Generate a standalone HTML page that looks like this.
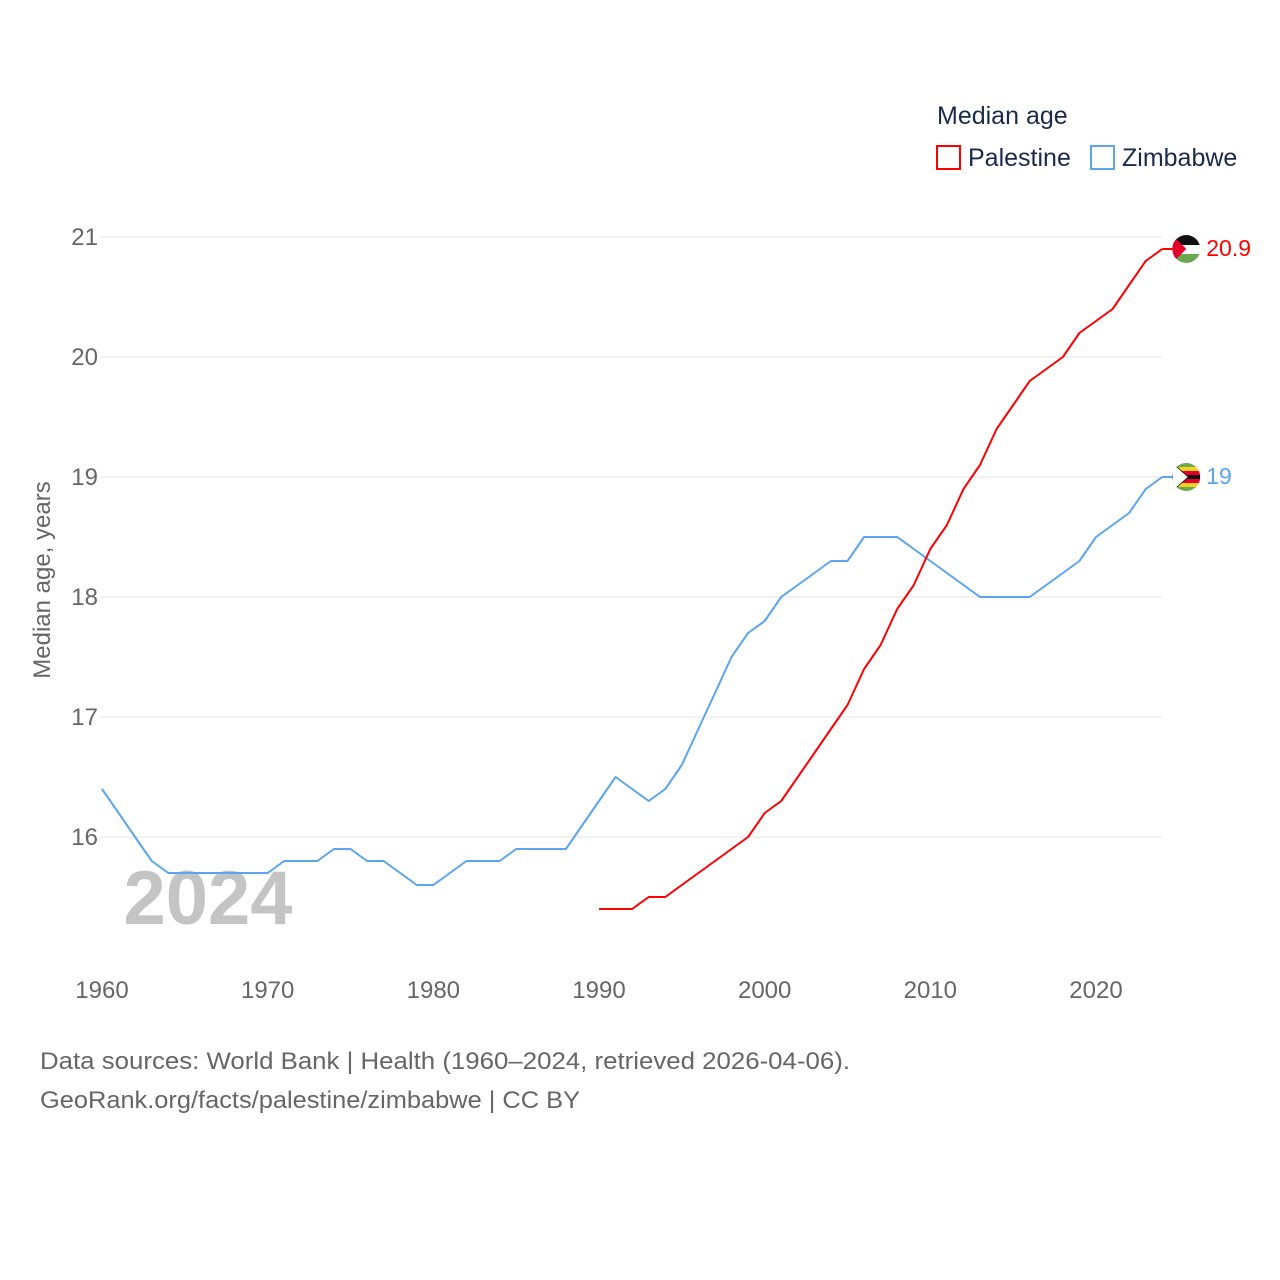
<!DOCTYPE html>
<html><head><meta charset="utf-8">
<style>
body{margin:0;background:#fff;}
svg{display:block;font-family:"Liberation Sans",sans-serif;}
</style></head>
<body>
<svg id="chart" width="1280" height="1280">
  <g id="grid"></g>
  <text x="208" y="924" font-size="76" font-weight="bold" fill="#c4c4c4" text-anchor="middle">2024</text>
  <g id="marks"></g>
  <text transform="translate(50,580) rotate(-90)" font-size="24" fill="#666" text-anchor="middle">Median age, years</text>
  <g>
    <text x="937" y="124" font-size="25" fill="#1a2a4a">Median age</text>
    <rect x="937" y="146" width="23" height="23" fill="none" stroke="#ff0000" stroke-width="2"/>
    <text x="968" y="166" font-size="25" fill="#1a2a4a">Palestine</text>
    <rect x="1091" y="146" width="23" height="23" fill="none" stroke="#5aa5ee" stroke-width="2"/>
    <text x="1122" y="166" font-size="25" fill="#1a2a4a">Zimbabwe</text>
  </g>
  <text x="40" y="1069" font-size="24" fill="#666" textLength="810" lengthAdjust="spacingAndGlyphs">Data sources: World Bank | Health (1960–2024, retrieved 2026-04-06).</text>
  <text x="40" y="1108" font-size="24" fill="#666" textLength="540" lengthAdjust="spacingAndGlyphs">GeoRank.org/facts/palestine/zimbabwe | CC BY</text>
</svg>
<script>
const yTicks=[16,17,18,19,20,21];
const xTicks=[1960,1970,1980,1990,2000,2010,2020];
const zimYears=[1960,1961,1962,1963,1964,1965,1966,1967,1968,1969,1970,1971,1972,1973,1974,1975,1976,1977,1978,1979,1980,1981,1982,1983,1984,1985,1986,1987,1988,1989,1990,1991,1992,1993,1994,1995,1996,1997,1998,1999,2000,2001,2002,2003,2004,2005,2006,2007,2008,2009,2010,2011,2012,2013,2014,2015,2016,2017,2018,2019,2020,2021,2022,2023,2024];
const zimValues=[16.4,16.2,16.0,15.8,15.7,15.7,15.7,15.7,15.7,15.7,15.7,15.8,15.8,15.8,15.9,15.9,15.8,15.8,15.7,15.6,15.6,15.7,15.8,15.8,15.8,15.9,15.9,15.9,15.9,16.1,16.3,16.5,16.4,16.3,16.4,16.6,16.9,17.2,17.5,17.7,17.8,18.0,18.1,18.2,18.3,18.3,18.5,18.5,18.5,18.4,18.3,18.2,18.1,18.0,18.0,18.0,18.0,18.1,18.2,18.3,18.5,18.6,18.7,18.9,19.0];
const palYears=[1990,1991,1992,1993,1994,1995,1996,1997,1998,1999,2000,2001,2002,2003,2004,2005,2006,2007,2008,2009,2010,2011,2012,2013,2014,2015,2016,2017,2018,2019,2020,2021,2022,2023,2024];
const palValues=[15.4,15.4,15.4,15.5,15.5,15.6,15.7,15.8,15.9,16.0,16.2,16.3,16.5,16.7,16.9,17.1,17.4,17.6,17.9,18.1,18.4,18.6,18.9,19.1,19.4,19.6,19.8,19.9,20.0,20.2,20.3,20.4,20.6,20.8,20.9];

const NS="http://www.w3.org/2000/svg";
const xS=y=>102+(y-1960)*(994/60);
const yS=v=>837-(v-16)*120;
function mk(tag,attrs,parent){const e=document.createElementNS(NS,tag);for(const k in attrs)e.setAttribute(k,attrs[k]);parent.appendChild(e);return e;}
const grid=document.getElementById('grid'), marks=document.getElementById('marks');
yTicks.forEach(t=>{
  const l=mk('line',{x1:100,x2:1162,y1:yS(t),y2:yS(t),stroke:'#e6e6e6','stroke-width':1},grid);
  
  
  const tx=mk('text',{x:98,y:yS(t)+8,'font-size':24,fill:'#666','text-anchor':'end'},grid);
  tx.textContent=t;
  
  
});
xTicks.forEach(t=>{
  const tx=mk('text',{x:xS(t),y:998,'font-size':24,fill:'#666','text-anchor':'middle'},grid);
  tx.textContent=t;
  
  
});
function line(xs,vs,color,name){
  const d=xs.map((y,i)=>(i?'L':'M')+xS(y).toFixed(1)+','+yS(vs[i]).toFixed(1)).join('');
  const p=mk('path',{d:d,fill:'none',stroke:color,'stroke-width':2,'stroke-linejoin':'round'},marks);
  
  
  return p;
}
line(zimYears,zimValues,'#5aa5ee','zimbabwe-line');
line(palYears,palValues,'#ff0000','palestine-line');

function endLabel(xs,vs,color,text,name,flag){
  const v=vs[vs.length-1];
  const x=xS(xs[xs.length-1]), y=yS(v);
  const g=mk('g',{},marks);
  
  
  mk('line',{x1:x,x2:x+12,y1:y,y2:y,stroke:color,'stroke-width':2},g);
  const cx=x+24;
  const cid=name+'clip';
  const cp=mk('clipPath',{id:cid},g);mk('circle',{cx:cx,cy:y,r:14},cp);
  const fg=mk('g',{'clip-path':'url(#'+cid+')'},g);
  flag(fg,cx,y);
  const t=mk('text',{x:cx+20,y:y+7,'font-size':23,fill:color},g);
  t.textContent=text;
  
  
}
endLabel(palYears,palValues,'#ff0000',String(palValues[palValues.length-1]),'palestine',(g,cx,cy)=>{
  mk('rect',{x:cx-14,y:cy-14,width:28,height:10,fill:'#111'},g);
  mk('rect',{x:cx-14,y:cy-4,width:28,height:9,fill:'#fff'},g);
  mk('rect',{x:cx-14,y:cy+5,width:28,height:10,fill:'#6aa84f'},g);
  mk('polygon',{points:(cx-14)+','+(cy-14)+' '+(cx)+','+cy+' '+(cx-14)+','+(cy+14),fill:'#e4002b'},g);
});
endLabel(zimYears,zimValues,'#5aa5ee',String(zimValues[zimValues.length-1]),'zimbabwe',(g,cx,cy)=>{
  const cols=['#6aa84f','#f6d11f','#e4002b','#111','#e4002b','#f6d11f','#6aa84f'];
  cols.forEach((c,i)=>mk('rect',{x:cx-14,y:cy-14+i*4,width:28,height:4.2,fill:c},g));
  mk('polygon',{points:(cx-14)+','+(cy-14)+' '+(cx+2)+','+cy+' '+(cx-14)+','+(cy+14),fill:'#fff',stroke:'#111','stroke-width':0.8},g);
});
</script>
</body></html>
